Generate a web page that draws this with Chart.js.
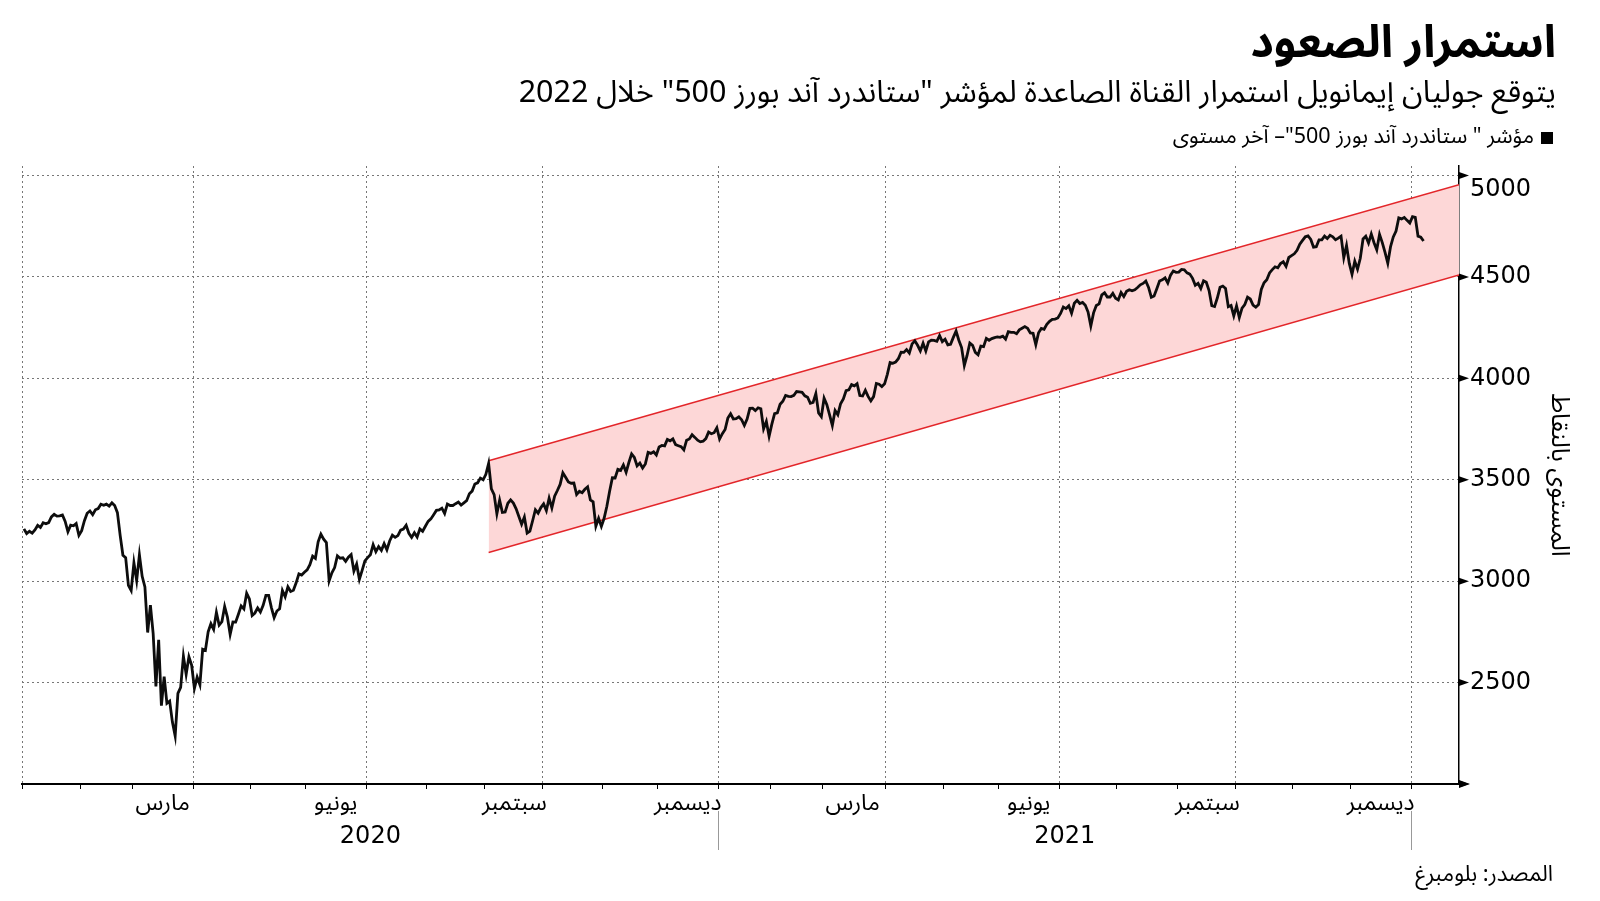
<!DOCTYPE html>
<html lang="ar">
<head>
<meta charset="utf-8">
<script src="https://cdn.jsdelivr.net/npm/chart.js@4.4.1/dist/chart.umd.min.js"></script>
<style>
html, body { margin: 0; padding: 0; background: #fff; }
body { width: 1600px; height: 901px; position: relative; overflow: hidden;
  font-family: "Noto Sans Arabic", "DejaVu Sans", sans-serif; color: #000; }
canvas { position: absolute; left: 0; top: 0; }
.t { position: absolute; direction: rtl; white-space: nowrap; right: 44px; }
#title { top: 13px; font-size: 45px; font-weight: bold; line-height: 60px; }
#sub { top: 75px; font-size: 30.5px; line-height: 36px; }
#legend { top: 122px; right: 47px; font-size: 21.5px; line-height: 28px; }
#legend i { display: inline-block; width: 12px; height: 12px; background: #000; margin-left: 7px; vertical-align: -1px; }
#source { top: 860px; right: 47px; font-size: 22px; line-height: 28px; }
</style>
</head>
<body>
<canvas id="chart" width="1600" height="901"></canvas>
<div class="t" id="title">استمرار الصعود</div>
<div class="t" id="sub">يتوقع جوليان إيمانويل استمرار القناة الصاعدة لمؤشر "ستاندرد آند بورز 500" خلال 2022</div>
<div class="t" id="legend"><i></i>مؤشر " ستاندرد آند بورز 500"– آخر مستوى</div>
<div class="t" id="source">المصدر: بلومبرغ</div>
<script>
// S&P 500 close, grouped by month (day of month + close)
const monthKeys = ['2020-01','2020-02','2020-03','2020-04','2020-05','2020-06','2020-07','2020-08','2020-09','2020-10','2020-11','2020-12',
  '2021-01','2021-02','2021-03','2021-04','2021-05','2021-06','2021-07','2021-08','2021-09','2021-10','2021-11','2021-12','2022-01'];

const tradeDays = [
  [2,3,6,7,8,9,10,13,14,15,16,17,21,22,23,24,27,28,29,30,31],
  [3,4,5,6,7,10,11,12,13,14,18,19,20,21,24,25,26,27,28],
  [2,3,4,5,6,9,10,11,12,13,16,17,18,19,20,23,24,25,26,27,30,31],
  [1,2,3,6,7,8,9,13,14,15,16,17,20,21,22,23,24,27,28,29,30],
  [1,4,5,6,7,8,11,12,13,14,15,18,19,20,21,22,26,27,28,29],
  [1,2,3,4,5,8,9,10,11,12,15,16,17,18,19,22,23,24,25,26,29,30],
  [1,2,6,7,8,9,10,13,14,15,16,17,20,21,22,23,24,27,28,29,30,31],
  [3,4,5,6,7,10,11,12,13,14,17,18,19,20,21,24,25,26,27,28,31],
  [1,2,3,4,8,9,10,11,14,15,16,17,18,21,22,23,24,25,28,29,30],
  [1,2,5,6,7,8,9,12,13,14,15,16,19,20,21,22,23,26,27,28,29,30],
  [2,3,4,5,6,9,10,11,12,13,16,17,18,19,20,23,24,25,27,30],
  [1,2,3,4,7,8,9,10,11,14,15,16,17,18,21,22,23,24,28,29,30,31],
  [4,5,6,7,8,11,12,13,14,15,19,20,21,22,25,26,27,28,29],
  [1,2,3,4,5,8,9,10,11,12,16,17,18,19,22,23,24,25,26],
  [1,2,3,4,5,8,9,10,11,12,15,16,17,18,19,22,23,24,25,26,29,30,31],
  [1,5,6,7,8,9,12,13,14,15,16,19,20,21,22,23,26,27,28,29,30],
  [3,4,5,6,7,10,11,12,13,14,17,18,19,20,21,24,25,26,27,28],
  [1,2,3,4,7,8,9,10,11,14,15,16,17,18,21,22,23,24,25,28,29,30],
  [1,2,6,7,8,9,12,13,14,15,16,19,20,21,22,23,26,27,28,29,30],
  [2,3,4,5,6,9,10,11,12,13,16,17,18,19,20,23,24,25,26,27,30,31],
  [1,2,3,7,8,9,10,13,14,15,16,17,20,21,22,23,24,27,28,29,30],
  [1,4,5,6,7,8,11,12,13,14,15,18,19,20,21,22,25,26,27,28,29],
  [1,2,3,4,5,8,9,10,11,12,15,16,17,18,19,22,23,24,26,29,30],
  [1,2,3,6,7,8,9,10,13,14,15,16,17,20,21,22,23,27,28,29,30,31],
  [3,4,5,6,7]
];

const closes = [
  [3258,3235,3246,3237,3253,3275,3265,3288,3283,3289,3317,3330,3321,3322,3326,3295,3244,3276,3273,3284,3226],
  [3249,3298,3335,3346,3328,3352,3358,3379,3374,3380,3370,3386,3373,3338,3226,3128,3116,2979,2954],
  [3090,3003,3130,3024,2972,2747,2882,2741,2481,2711,2386,2529,2398,2409,2305,2237,2447,2476,2630,2541,2627,2585],
  [2471,2527,2489,2664,2659,2750,2790,2762,2846,2783,2800,2875,2823,2737,2799,2798,2837,2878,2863,2940,2912],
  [2831,2843,2868,2848,2881,2930,2930,2870,2820,2853,2864,2954,2923,2972,2949,2955,2992,3036,3030,3044],
  [3056,3081,3123,3112,3194,3232,3207,3190,3002,3041,3067,3125,3113,3115,3098,3118,3131,3050,3084,3009,3053,3100],
  [3116,3130,3180,3145,3170,3152,3185,3155,3198,3227,3216,3225,3252,3257,3276,3236,3216,3239,3218,3258,3246,3271],
  [3295,3307,3328,3349,3351,3360,3334,3380,3373,3373,3382,3390,3375,3386,3397,3431,3444,3479,3485,3508,3500],
  [3527,3581,3455,3427,3332,3399,3339,3341,3384,3401,3385,3357,3319,3281,3316,3237,3247,3298,3352,3335,3363],
  [3381,3348,3409,3361,3419,3447,3477,3534,3512,3489,3483,3484,3427,3443,3436,3453,3465,3401,3391,3271,3310,3270],
  [3310,3369,3443,3510,3509,3551,3546,3573,3537,3585,3627,3610,3568,3582,3558,3578,3635,3630,3638,3622],
  [3662,3669,3667,3699,3692,3702,3673,3668,3663,3647,3695,3701,3722,3709,3695,3687,3690,3703,3735,3727,3732,3756],
  [3701,3727,3748,3804,3825,3800,3801,3810,3796,3768,3799,3852,3853,3841,3855,3850,3751,3787,3714],
  [3774,3826,3830,3872,3887,3916,3911,3910,3916,3935,3933,3931,3914,3907,3877,3881,3925,3829,3811],
  [3902,3870,3820,3768,3842,3821,3875,3899,3939,3943,3969,3963,3974,3915,3913,3941,3911,3889,3910,3975,3971,3959,3973],
  [4020,4078,4074,4080,4097,4129,4128,4142,4125,4170,4185,4163,4135,4173,4135,4180,4188,4187,4183,4211,4181],
  [4193,4165,4168,4202,4233,4188,4152,4063,4113,4174,4163,4128,4116,4159,4156,4197,4188,4196,4201,4204],
  [4202,4208,4193,4230,4227,4227,4220,4239,4247,4255,4247,4224,4222,4166,4225,4246,4242,4266,4281,4291,4292,4298],
  [4320,4352,4344,4358,4321,4370,4385,4369,4374,4360,4327,4258,4323,4359,4367,4412,4422,4401,4401,4419,4395],
  [4387,4423,4403,4429,4437,4432,4437,4448,4461,4468,4480,4448,4400,4406,4442,4480,4486,4496,4470,4509,4529,4523],
  [4524,4537,4535,4520,4514,4493,4459,4469,4443,4481,4474,4433,4358,4354,4396,4449,4455,4443,4353,4359,4308],
  [4357,4300,4346,4364,4400,4391,4361,4351,4364,4438,4471,4486,4520,4536,4550,4545,4566,4575,4552,4596,4605],
  [4614,4631,4661,4680,4698,4702,4685,4647,4649,4683,4683,4701,4689,4705,4698,4683,4691,4701,4595,4655,4567],
  [4513,4577,4538,4592,4687,4701,4667,4712,4669,4634,4710,4669,4621,4568,4649,4697,4726,4791,4786,4793,4779,4766],
  [4797,4794,4701,4696,4677]
];

// rising channel: start day, then values at the start and at the right edge
const channelStart = '2020-09-02';
const upperBand = [3594, 4955];
const lowerBand = [3141, 4510];

// axis stuff
const yTicks = [2000,2250,2500,2750,3000,3250,3500,3750,4000,4250,4500,4750,5000];
const yMajor = [2000,2500,3000,3500,4000,4500,5000];
const yLabeled = [2500,3000,3500,4000,4500,5000];
const monthLabels = { 2: 'مارس', 5: 'يونيو', 8: 'سبتمبر', 11: 'ديسمبر' };
const years = [2020, 2021];

const holidays = ['2020-01-01','2020-01-20','2020-02-17','2020-04-10','2020-05-25','2020-07-03','2020-09-07','2020-11-26','2020-12-25',
  '2021-01-01','2021-01-18','2021-02-15','2021-04-02','2021-05-31','2021-07-05','2021-09-06','2021-11-25','2021-12-24','2022-01-17'];

// x axis counts trading sessions, not calendar days
const sessionIdx = {};
const monthStart = {};
let n = 0;
for (let t = Date.UTC(2020, 0, 1); t <= Date.UTC(2022, 1, 28); t += 864e5) {
  const d = new Date(t);
  const key = d.toISOString().slice(0, 10);
  const wd = d.getUTCDay();
  if (wd === 0 || wd === 6 || holidays.includes(key)) continue;
  sessionIdx[key] = n;
  const m = key.slice(0, 7);
  if (!(m in monthStart)) monthStart[m] = n;
  n++;
}

const xMin = -0.7, xMax = 521.9;

const spx = [];
monthKeys.forEach((mk, i) => {
  tradeDays[i].forEach((day, j) => {
    const key = mk + '-' + String(day).padStart(2, '0');
    if (key in sessionIdx) spx.push({ x: sessionIdx[key], y: closes[i][j] });
  });
});

const c0 = sessionIdx[channelStart];
const upperPts = [{ x: c0, y: upperBand[0] }, { x: xMax, y: upperBand[1] }];
const lowerPts = [{ x: c0, y: lowerBand[0] }, { x: xMax, y: lowerBand[1] }];

// month boundary ticks
const monthTicks = [];
const tickMonth = [];
monthKeys.forEach(mk => {
  monthTicks.push(monthStart[mk] - 0.5);
  tickMonth.push(Number(mk.slice(5)) - 1);
});

const numFont = '"DejaVu Sans", sans-serif';
const arFont = '"Noto Sans Arabic", "DejaVu Sans", sans-serif';

function tri(ctx, x, y, w, h) {
  ctx.beginPath();
  ctx.moveTo(x, y - h);
  ctx.lineTo(x + w, y);
  ctx.lineTo(x, y + h);
  ctx.closePath();
  ctx.fill();
}

const decor = {
  id: 'decor',
  afterDraw(chart) {
    const { ctx, chartArea: a, scales: { x, y } } = chart;
    ctx.save();
    ctx.fillStyle = '#000';
    yMajor.forEach(v => tri(ctx, a.right, y.getPixelForValue(v), 10, 3.5));
    tri(ctx, a.right, a.bottom, 11, 4);

    ctx.font = '24px ' + numFont;
    ctx.textAlign = 'center';
    ctx.textBaseline = 'middle';
    years.forEach(yr => {
      const x0 = x.getPixelForValue(monthStart[yr + '-01'] - 0.5);
      const x1 = x.getPixelForValue(monthStart[(yr + 1) + '-01'] - 0.5);
      ctx.fillStyle = '#000';
      ctx.fillText(String(yr), (x0 + x1) / 2, 837);
      ctx.strokeStyle = '#999';
      ctx.lineWidth = 1;
      ctx.beginPath();
      ctx.moveTo(Math.round(x1) + 0.5, 811);
      ctx.lineTo(Math.round(x1) + 0.5, 850);
      ctx.stroke();
    });
    ctx.restore();
  }
};

new Chart(document.getElementById('chart'), {
  type: 'line',
  data: {
    datasets: [
      { data: spx, borderColor: '#0d0d0d', borderWidth: 2.8, pointRadius: 0, fill: false, tension: 0 },
      { data: upperPts, borderColor: '#e3262a', borderWidth: 1.5, pointRadius: 0, fill: false },
      { data: lowerPts, borderColor: '#e3262a', borderWidth: 1.5, pointRadius: 0, fill: '-1', backgroundColor: '#fdd7d7' }
    ]
  },
  options: {
    responsive: false,
    animation: false,
    devicePixelRatio: 1,
    layout: { padding: { left: 22, top: 166, right: 0, bottom: 0 } },
    plugins: { legend: { display: false }, tooltip: { enabled: false } },
    scales: {
      x: {
        type: 'linear',
        min: xMin,
        max: xMax,
        afterBuildTicks: s => { s.ticks = monthTicks.map(v => ({ value: v })); },
        afterFit: s => { s.height = 117; },
        grid: {
          color: c => (c.tick && tickMonth[c.index] % 3 === 0) ? '#777' : 'rgba(0,0,0,0)',
          lineWidth: 1,
          tickColor: '#000',
          tickLength: 5,
          tickWidth: 1
        },
        border: { display: true, color: '#000', width: 2, dash: [2, 3] },
        ticks: {
          autoSkip: false,
          maxRotation: 0,
          minRotation: 0,
          labelOffset: 30,
          padding: 4,
          color: '#000',
          font: { family: arFont, size: 23 },
          callback: (v, i) => monthLabels[tickMonth[i]] || ''
        }
      },
      y: {
        position: 'right',
        min: 2000,
        max: 5047,
        afterBuildTicks: s => { s.ticks = yTicks.map(v => ({ value: v })); },
        afterFit: s => { s.width = 141; },
        grid: {
          color: c => (c.tick && c.tick.value % 500 === 0) ? '#777' : 'rgba(0,0,0,0)',
          lineWidth: 1,
          tickColor: c => (c.tick && c.tick.value % 500 === 0) ? 'rgba(0,0,0,0)' : '#000',
          tickLength: 4,
          tickWidth: 1
        },
        border: { display: true, color: '#000', width: 1.5, dash: [2, 3] },
        ticks: {
          padding: 7,
          color: '#000',
          font: { family: numFont, size: 24 },
          // the top label sits a bit under its tick
          callback: v => v === 5000 ? ['', '5000'] : (yLabeled.includes(v) ? String(v) : '')
        },
        title: {
          display: true,
          text: 'المستوى بالنقاط',
          color: '#000',
          font: { family: arFont, size: 25 },
          padding: { top: 29, bottom: 0 }
        }
      }
    }
  },
  plugins: [decor]
});
</script>
</body>
</html>
